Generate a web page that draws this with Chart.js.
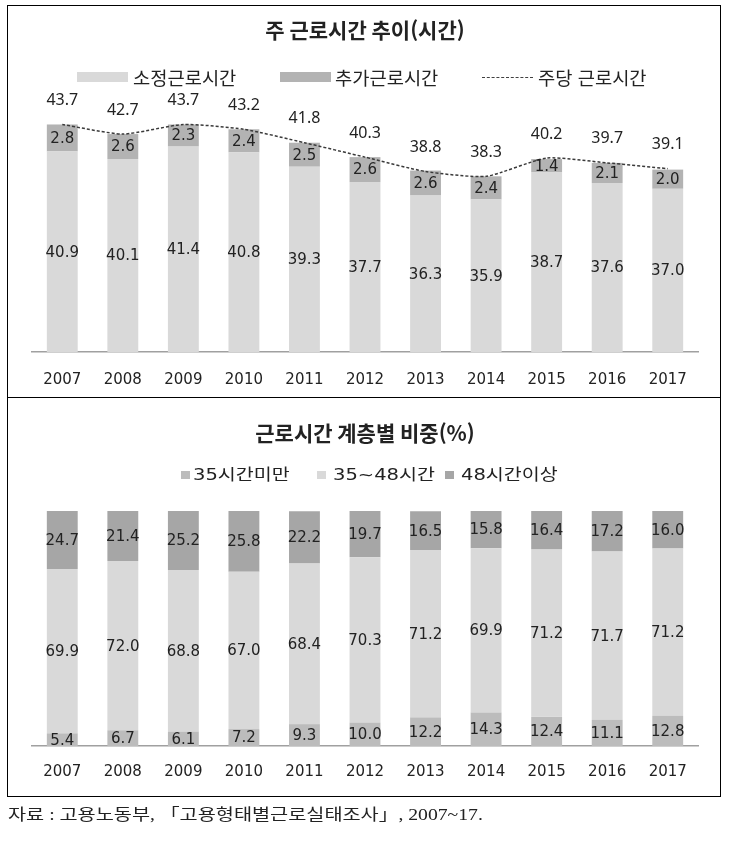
<!DOCTYPE html>
<html lang="ko">
<head>
<meta charset="utf-8">
<title>근로시간</title>
<script src="https://cdn.jsdelivr.net/npm/chart.js@4.4.1/dist/chart.umd.min.js"></script>
<style>
  body { margin: 0; background: #fff; }
  #page { position: relative; width: 733px; height: 846px; font-family: "Noto Sans CJK KR", sans-serif; color: #222; overflow: hidden; }
  .chart-box { position: absolute; left: 0; width: 733px; }
  .frame { position: absolute; left: 7px; top: 5px; width: 714px; height: 792px; border: 1px solid #000; box-sizing: border-box; pointer-events: none; }
  .divider { position: absolute; left: 7px; top: 397px; width: 714px; height: 1px; background: #000; }
  .lg { position: absolute; white-space: nowrap; }
  .lg-text { line-height: 24px; font-size: 18px; transform: scaleX(1.04); transform-origin: left center; }
  .lg-small { line-height: 20px; font-size: 16px; font-family: "DejaVu Sans", "Noto Sans CJK KR", sans-serif; transform: scaleX(1.22); transform-origin: left center; }
  .note { position: absolute; left: 8px; top: 803px; font-size: 16px; line-height: 24px; font-family: "Liberation Serif", "Noto Sans CJK KR", serif; transform: scaleX(1.23); transform-origin: left center; white-space: nowrap; }
</style>
</head>
<body>
<div id="page">
  <div class="chart-box" style="top:0;height:420px;"><canvas id="hoursChart"></canvas></div>
  <div class="chart-box" style="top:398px;height:418px;"><canvas id="shareChart"></canvas></div>

  <!-- top legend -->
  <div class="lg" style="left:77px;top:72px;width:51px;height:10px;background:#d9d9d9;"></div>
  <div class="lg lg-text" style="left:133px;top:65px;">소정근로시간</div>
  <div class="lg" style="left:280px;top:72px;width:51px;height:10px;background:#b3b3b3;"></div>
  <div class="lg lg-text" style="left:335px;top:65px;">추가근로시간</div>
  <div class="lg" style="left:482px;top:77px;width:51px;height:0;border-top:1.5px dashed #404040;"></div>
  <div class="lg lg-text" style="left:538px;top:65px;">주당 근로시간</div>

  <!-- bottom legend -->
  <div class="lg" style="left:181px;top:471px;width:9px;height:8px;background:#bcbcbc;"></div>
  <div class="lg lg-small" style="left:193px;top:465px;">35시간미만</div>
  <div class="lg" style="left:317px;top:471px;width:9px;height:8px;background:#d9d9d9;"></div>
  <div class="lg lg-small" style="left:333px;top:465px;">35~48시간</div>
  <div class="lg" style="left:445px;top:471px;width:9px;height:8px;background:#a6a6a6;"></div>
  <div class="lg lg-small" style="left:461px;top:465px;">48시간이상</div>

  <div class="frame"></div>
  <div class="divider"></div>
  <div class="note">자료 : 고용노동부, 「고용형태별근로실태조사」, 2007~17.</div>
</div>

<script>
const YEARS = ['2007', '2008', '2009', '2010', '2011', '2012', '2013', '2014', '2015', '2016', '2017'];

// 주 근로시간 (시간)
const regularHours = [40.9, 40.1, 41.4, 40.8, 39.3, 37.7, 36.3, 35.9, 38.7, 37.6, 37.0];
const extraHours = [2.8, 2.6, 2.3, 2.4, 2.5, 2.6, 2.6, 2.4, 1.4, 2.1, 2.0];
const weeklyHours = [43.7, 42.7, 43.7, 43.2, 41.8, 40.3, 38.8, 38.3, 40.2, 39.7, 39.1];

// 근로시간 계층별 비중 (%)
const under35 = [5.4, 6.7, 6.1, 7.2, 9.3, 10.0, 12.2, 14.3, 12.4, 11.1, 12.8];
const from35to48 = [69.9, 72.0, 68.8, 67.0, 68.4, 70.3, 71.2, 69.9, 71.2, 71.7, 71.2];
const over48 = [24.7, 21.4, 25.2, 25.8, 22.2, 19.7, 16.5, 15.8, 16.4, 17.2, 16.0];

const GREYS = {
  light: '#d9d9d9',
  mid: '#b3b3b3',
  bottom: '#bcbcbc',
  dark: '#a6a6a6',
  axis: '#a0a0a0',
  text: '#222'
};

// draws the number on each bar segment, and above each line point
const valueLabels = {
  id: 'valueLabels',
  afterDatasetsDraw(chart, args, opts) {
    const { ctx, chartArea } = chart;
    ctx.save();
    ctx.textAlign = 'center';
    ctx.textBaseline = 'middle';
    ctx.fillStyle = opts.color;
    chart.data.datasets.forEach((ds, i) => {
      const meta = chart.getDatasetMeta(i);
      meta.data.forEach((el, j) => {
        const text = ds.data[j].toFixed(1);
        if (meta.type === 'line') {
          ctx.font = opts.totalFont;
          ctx.fillText(text, el.x, el.y - opts.totalOffset);
        } else {
          const top = Math.max(Math.min(el.y, el.base), chartArea.top);
          const bottom = Math.min(Math.max(el.y, el.base), chartArea.bottom);
          ctx.font = opts.font;
          ctx.fillText(text, el.x, (top + bottom) / 2 + 1);
        }
      });
    });
    ctx.restore();
  }
};

const xAxis = {
  stacked: true,
  grid: { display: false, drawTicks: false },
  border: { display: true, color: GREYS.axis, width: 1.5 },
  ticks: { padding: 17, color: GREYS.text, font: { family: 'DejaVu Sans', size: 15 } }
};

const titleFont = { family: "'Noto Sans CJK KR', sans-serif", size: 21, weight: 'bold' };

document.addEventListener('DOMContentLoaded', () => {

  new Chart(document.getElementById('hoursChart'), {
    type: 'bar',
    data: {
      labels: YEARS,
      datasets: [
        {
          type: 'line',
          label: '주당 근로시간',
          data: weeklyHours,
          stack: 'total',
          order: 0,
          borderColor: '#3a3a3a',
          borderWidth: 1.5,
          borderDash: [3, 2],
          tension: 0.2,
          pointRadius: 0,
          fill: false
        },
        {
          label: '소정근로시간',
          data: regularHours,
          stack: 'hours',
          order: 1,
          backgroundColor: GREYS.light,
          categoryPercentage: 0.51,
          barPercentage: 1
        },
        {
          label: '추가근로시간',
          data: extraHours,
          stack: 'hours',
          order: 1,
          backgroundColor: GREYS.mid,
          categoryPercentage: 0.51,
          barPercentage: 1
        }
      ]
    },
    options: {
      responsive: true,
      maintainAspectRatio: false,
      animation: false,
      layout: { padding: { left: 32, right: 35, top: 0, bottom: 12 } },
      scales: {
        x: { ...xAxis, ticks: { ...xAxis.ticks, padding: 19 } },
        y: { stacked: true, display: false, min: 20, max: 45 }
      },
      plugins: {
        legend: { display: false },
        tooltip: { enabled: false },
        title: {
          display: true,
          text: '주 근로시간 추이(시간)',
          color: GREYS.text,
          font: titleFont,
          padding: { top: 17.4, bottom: 69.4 }
        },
        valueLabels: {
          font: '15px "DejaVu Sans"',
          totalFont: '16px "Noto Sans"',
          totalOffset: 24,
          color: GREYS.text
        }
      }
    },
    plugins: [valueLabels]
  });


  new Chart(document.getElementById('shareChart'), {
    type: 'bar',
    data: {
      labels: YEARS,
      datasets: [
        { label: '35시간미만', data: under35, backgroundColor: GREYS.bottom },
        { label: '35~48시간', data: from35to48, backgroundColor: GREYS.light },
        { label: '48시간이상', data: over48, backgroundColor: GREYS.dark }
      ].map(ds => ({ ...ds, categoryPercentage: 0.51, barPercentage: 1 }))
    },
    options: {
      responsive: true,
      maintainAspectRatio: false,
      animation: false,
      layout: { padding: { left: 32, right: 35, top: 0, bottom: 18 } },
      scales: {
        x: xAxis,
        y: { stacked: true, display: false, min: 0, max: 100 }
      },
      plugins: {
        legend: { display: false },
        tooltip: { enabled: false },
        title: {
          display: true,
          text: '근로시간 계층별 비중(%)',
          color: GREYS.text,
          font: titleFont,
          padding: { top: 22.4, bottom: 65.4 }
        },
        valueLabels: {
          font: '15px "DejaVu Sans"',
          color: GREYS.text
        }
      }
    },
    plugins: [valueLabels]
  });
});
</script>
</body>
</html>
